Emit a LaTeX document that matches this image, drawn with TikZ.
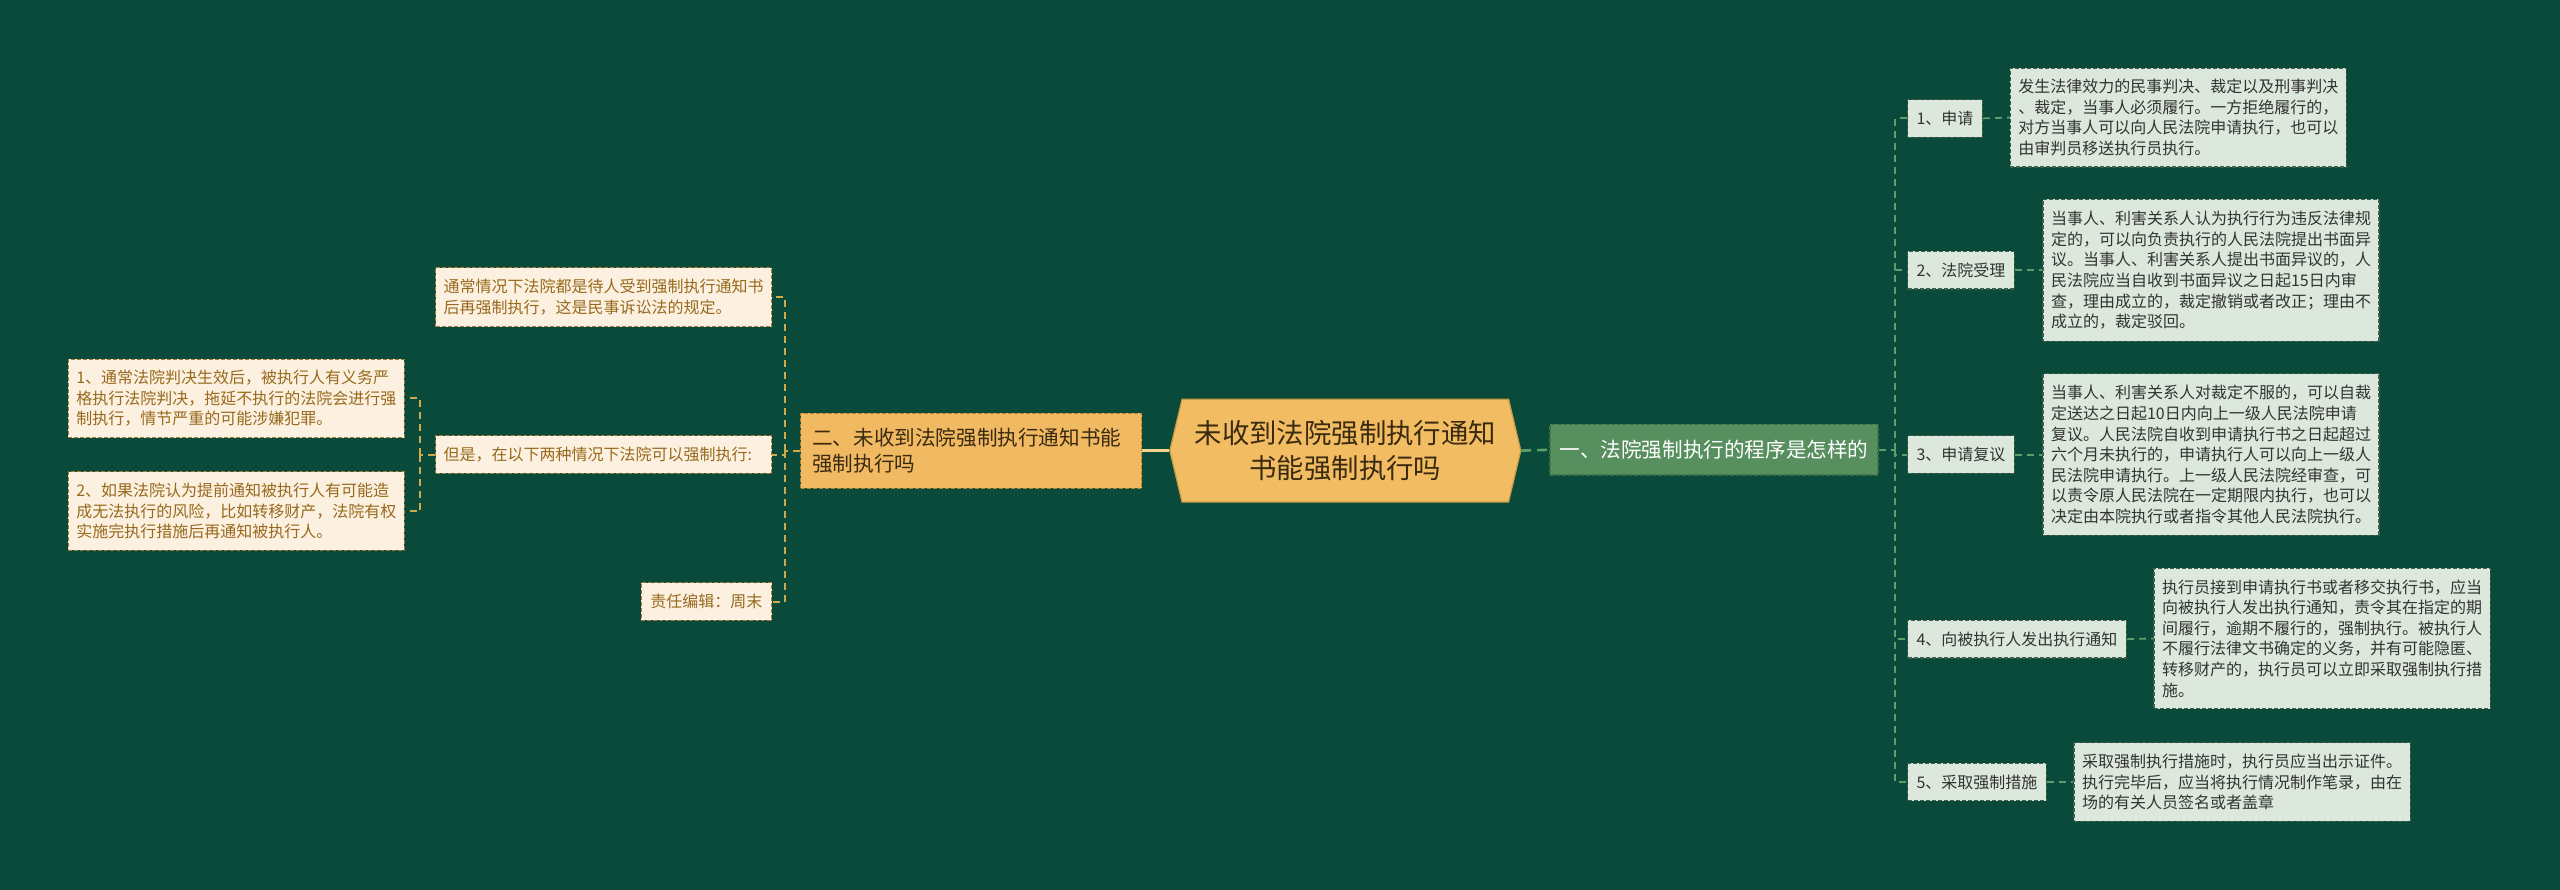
\documentclass[tikz,border=0pt]{standalone}
\usepackage{fontspec}
\setmainfont{Noto Sans CJK SC}
\definecolor{bgc}{HTML}{094A3A}
\definecolor{hexfill}{HTML}{F2BC63}
\definecolor{hexdraw}{HTML}{C99A45}
\definecolor{ctext}{HTML}{3A2A10}
\definecolor{erfill}{HTML}{F0B962}
\definecolor{erdraw}{HTML}{B0843A}
\definecolor{yifill}{HTML}{578F5F}
\definecolor{yidraw}{HTML}{3E7349}
\definecolor{lfill}{HTML}{FCF1E1}
\definecolor{ldraw}{HTML}{A07C3E}
\definecolor{ltext}{HTML}{98691C}
\definecolor{rfill}{HTML}{DCE8DC}
\definecolor{rdraw}{HTML}{3D5F4D}
\definecolor{rtext}{HTML}{333333}
\definecolor{lcon}{HTML}{D0A84E}
\definecolor{rcon}{HTML}{5E9E6C}
\definecolor{ccon}{HTML}{EED48C}
\begin{document}
\begin{tikzpicture}[x=0.8163pt,y=-0.8163pt,
  boxdash/.style={dash pattern=on 2pt off 1pt, line width=0.6pt},
  small/.style={font=\fontsize{8pt}{10.3pt}\selectfont, inner ysep=2pt, align=left},
  ldet/.style={small, boxdash, fill=lfill, draw=ldraw, text=ltext, text width=160pt, inner xsep=4pt},
  lsingle/.style={small, boxdash, fill=lfill, draw=ldraw, text=ltext, inner xsep=4.6pt, minimum height=18.8pt},
  rdet/.style={small, boxdash, fill=rfill, draw=rdraw, text=rtext, text width=160pt, inner xsep=4pt},
  rlab/.style={small, boxdash, fill=rfill, draw=rdraw, text=rtext, inner xsep=4.5pt, minimum height=18.8pt},
  lline/.style={draw=lcon, line width=0.9pt, dash pattern=on 3.5pt off 2.5pt},
  rline/.style={draw=rcon, line width=0.9pt, dash pattern=on 3.5pt off 2.5pt},
  cline/.style={draw=ccon, line width=1.3pt},
  gline/.style={draw=rcon, line width=1.3pt, dash pattern=on 5pt off 3pt}
]
\useasboundingbox (0,0) rectangle (1568,545);
\fill[bgc] (0,0) rectangle (1568,545);

% central hexagon
\filldraw[fill=hexfill, draw=hexdraw, line width=0.6pt]
  (716.5,276) -- (724,244.5) -- (924,244.5) -- (931.5,276) -- (924,307.5) -- (724,307.5) -- cycle;
\node[font=\fontsize{13.7pt}{17.5pt}\selectfont, text=ctext, align=center,
      minimum width=175.5pt, minimum height=51.4pt, inner sep=0pt]
  (c) at (824,276) {未收到法院强制执行通知\\书能强制执行吗};

% level-1 nodes
\node[font=\fontsize{10.3pt}{13.4pt}\selectfont, text=ctext, align=left, text width=159pt,
      inner xsep=5.8pt, inner ysep=2pt, minimum height=37.5pt, fill=erfill, draw=erdraw, boxdash, anchor=west]
  (er) at (490,276) {二、未收到法院强制执行通知书能\\强制执行吗};
\node[font=\fontsize{10.3pt}{12pt}\selectfont, text=white, inner xsep=4.75pt, inner ysep=2pt,
      minimum height=25.3pt, fill=yifill, draw=yidraw, boxdash, anchor=west]
  (yi) at (949,275.5) {一、法院强制执行的程序是怎样的};

% right labels
\node[rlab, anchor=west] (l1) at (1168,72.5) {1、申请};
\node[rlab, anchor=west] (l2) at (1168,165.5) {2、法院受理};
\node[rlab, anchor=west] (l3) at (1168,278.5) {3、申请复议};
\node[rlab, anchor=west] (l4) at (1168,391.5) {4、向被执行人发出执行通知};
\node[rlab, anchor=west] (l5) at (1168,479) {5、采取强制措施};

% right details
\node[rdet, anchor=west, minimum height=49.4pt] (d1) at (1231,72) {发生法律效力的民事判决、裁定以及刑事判决\\
、裁定，当事人必须履行。一方拒绝履行的，\\
对方当事人可以向人民法院申请执行，也可以\\
由审判员移送执行员执行。};
\node[rdet, anchor=west, minimum height=71pt] (d2) at (1251,165.5) {当事人、利害关系人认为执行行为违反法律规\\
定的，可以向负责执行的人民法院提出书面异\\
议。当事人、利害关系人提出书面异议的，人\\
民法院应当自收到书面异议之日起15日内审\\
查，理由成立的，裁定撤销或者改正；理由不\\
成立的，裁定驳回。};
\node[rdet, anchor=west, minimum height=80.8pt] (d3) at (1251,278.5) {当事人、利害关系人对裁定不服的，可以自裁\\
定送达之日起10日内向上一级人民法院申请\\
复议。人民法院自收到申请执行书之日起超过\\
六个月未执行的，申请执行人可以向上一级人\\
民法院申请执行。上一级人民法院经审查，可\\
以责令原人民法院在一定期限内执行，也可以\\
决定由本院执行或者指令其他人民法院执行。};
\node[rdet, anchor=west, minimum height=70.2pt] (d4) at (1319,391) {执行员接到申请执行书或者移交执行书，应当\\
向被执行人发出执行通知，责令其在指定的期\\
间履行，逾期不履行的，强制执行。被执行人\\
不履行法律文书确定的义务，并有可能隐匿、\\
转移财产的，执行员可以立即采取强制执行措\\
施。};
\node[rdet, anchor=west, minimum height=39.2pt] (d5) at (1270,479) {采取强制执行措施时，执行员应当出示证件。\\
执行完毕后，应当将执行情况制作笔录，由在\\
场的有关人员签名或者盖章};

% left nodes
\node[ldet, anchor=east, minimum height=29.4pt] (la) at (473,182) {通常情况下法院都是待人受到强制执行通知书\\
后再强制执行，这是民事诉讼法的规定。};
\node[ldet, anchor=east, minimum height=18.8pt] (lb) at (473,278.5) {但是，在以下两种情况下法院可以强制执行:};
\node[lsingle, anchor=east] (lc) at (473,368.5) {责任编辑：周末};
\node[ldet, anchor=east, minimum height=39.2pt] (lb1) at (248,244) {1、通常法院判决生效后，被执行人有义务严\\
格执行法院判决，拖延不执行的法院会进行强\\
制执行，情节严重的可能涉嫌犯罪。};
\node[ldet, anchor=east, minimum height=39.2pt] (lb2) at (248,313) {2、如果法院认为提前通知被执行人有可能造\\
成无法执行的风险，比如转移财产，法院有权\\
实施完执行措施后再通知被执行人。};

% connectors centre
\draw[cline] (c.west) -- (er.east);
\draw[gline] (c.east) -- (yi.west);

% right tree
\draw[rline] (yi.east) -- ++(10,0) coordinate (rv);
\foreach \n in {l1,l2,l3,l4,l5} \draw[rline] (rv) |- (\n.west);
\foreach \n in {1,2,3,4,5} \draw[rline] (l\n.east) -- (d\n.west);

% left tree
\draw[lline] (er.west) -- ++(-9,0) coordinate (lv);
\foreach \n in {la,lb,lc} \draw[lline] (lv) |- (\n.east);
\draw[lline] (lb.west) -- ++(-9,0) coordinate (lv2);
\foreach \n in {lb1,lb2} \draw[lline] (lv2) |- (\n.east);
\end{tikzpicture}
\end{document}
